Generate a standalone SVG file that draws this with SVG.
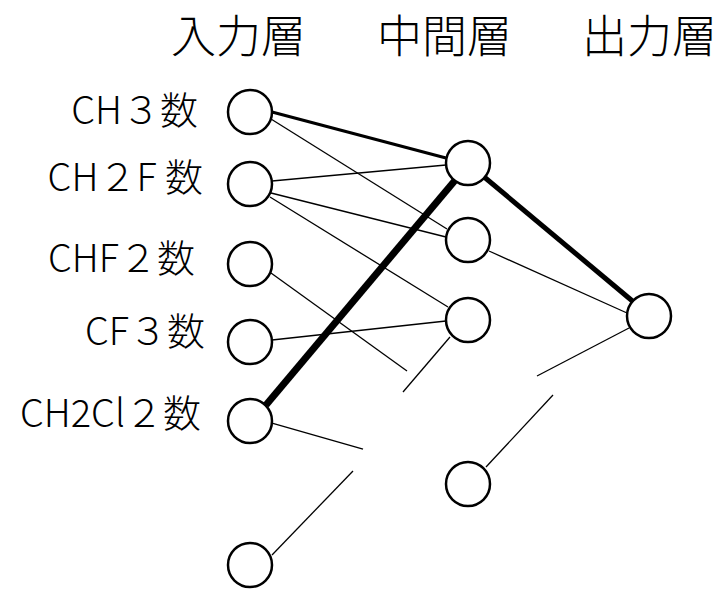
<svg xmlns="http://www.w3.org/2000/svg" width="724" height="589" viewBox="0 0 724 589">
<style>
.n{fill:#fff;stroke:#000;stroke-width:2.5}
.t{font-family:"Noto Sans CJK JP","Noto Sans",sans-serif;fill:#000;font-weight:300}
.h{font-size:45px}
.l{font-size:38px;text-anchor:end}
.c{stroke:#000;fill:none;stroke-width:1.3}
</style>
<rect width="724" height="589" fill="#fff"/>
<g id="headers" class="t h">
<text x="171" y="53">入力層</text>
<text x="377" y="53">中間層</text>
<text x="582" y="53">出力層</text>
</g>
<g id="connectors">
<line class="c" x1="272" y1="112" x2="446" y2="158" style="stroke-width:3"/>
<line class="c" x1="271" y1="119" x2="447" y2="229"/>
<line class="c" x1="272" y1="181" x2="446" y2="165"/>
<line class="c" x1="271" y1="193" x2="446" y2="237"/>
<line class="c" x1="270" y1="197" x2="448" y2="307"/>
<line class="c" x1="271" y1="273" x2="407" y2="371"/>
<line class="c" x1="272" y1="340" x2="446" y2="321"/>
<line class="c" x1="266" y1="405" x2="457" y2="178" style="stroke-width:7"/>
<line class="c" x1="272" y1="423" x2="363" y2="449"/>
<line class="c" x1="272" y1="555" x2="353" y2="471"/>
<line class="c" x1="450" y1="337" x2="403" y2="392"/>
<line class="c" x1="483" y1="176" x2="636" y2="304" style="stroke-width:5"/>
<line class="c" x1="489" y1="251" x2="627" y2="313"/>
<line class="c" x1="629" y1="328" x2="537" y2="376"/>
<line class="c" x1="486" y1="467" x2="553" y2="395"/>
</g>
<g id="in1"><circle class="n" cx="250" cy="112" r="22"/><text class="t l" x="198" y="124">CH３数</text></g>
<g id="in2"><circle class="n" cx="250" cy="184" r="22"/><text class="t l" x="203" y="191">CH２F 数</text></g>
<g id="in3"><circle class="n" cx="250" cy="264" r="22"/><text class="t l" x="195" y="272">CHF２数</text></g>
<g id="in4"><circle class="n" cx="250" cy="342" r="22"/><text class="t l" x="205" y="345">CF３数</text></g>
<g id="in5"><circle class="n" cx="250" cy="421" r="22"/><text class="t l" x="201" y="427">CH2Cl２数</text></g>
<g id="in6"><circle class="n" cx="250" cy="565" r="22"/></g>
<g id="mid1"><circle class="n" cx="468" cy="163" r="22"/></g>
<g id="mid2"><circle class="n" cx="468" cy="240" r="22"/></g>
<g id="mid3"><circle class="n" cx="468" cy="320" r="22"/></g>
<g id="mid4"><circle class="n" cx="468" cy="484" r="22"/></g>
<g id="out1"><circle class="n" cx="649" cy="316" r="22"/></g>
</svg>
